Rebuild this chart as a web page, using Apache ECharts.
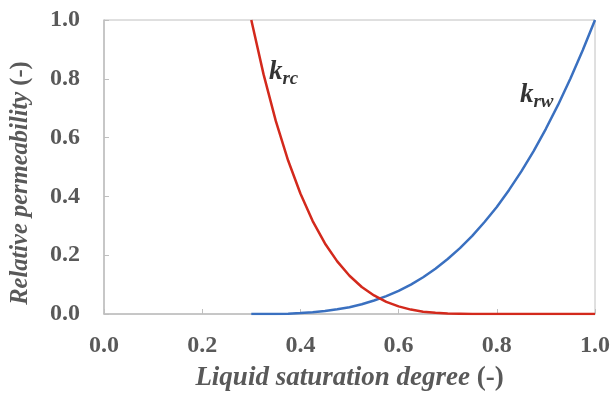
<!DOCTYPE html>
<html>
<head>
<meta charset="utf-8">
<script src="https://cdn.jsdelivr.net/npm/echarts@6/dist/echarts.min.js"></script>
<style>
  html, body { margin: 0; padding: 0; background: #fff; }
  #chart { width: 615px; height: 397px; }
</style>
</head>
<body>
<div id="chart"></div>
<script>
// 液体饱和度（横轴）
const satX = [0.300, 0.325, 0.350, 0.375, 0.400, 0.425, 0.450, 0.475, 0.500, 0.525,
              0.550, 0.575, 0.600, 0.625, 0.650, 0.675, 0.700, 0.725, 0.750, 0.775,
              0.800, 0.825, 0.850, 0.875, 0.900, 0.925, 0.950, 0.975, 1.000];
// k_rc 曲线（红）
const krc = [1.000, 0.815, 0.656, 0.522, 0.410, 0.316, 0.240, 0.179, 0.130, 0.092,
             0.063, 0.041, 0.026, 0.015, 0.008, 0.004, 0.002, 0.001, 0.000, 0.000,
             0.000, 0.000, 0.000, 0.000, 0.000, 0.000, 0.000, 0.000, 0.000];
// k_rw 曲线（蓝）
const krw = [0.000, 0.000, 0.000, 0.001, 0.003, 0.006, 0.010, 0.016, 0.023, 0.033,
             0.046, 0.061, 0.079, 0.100, 0.125, 0.154, 0.187, 0.224, 0.266, 0.313,
             0.364, 0.422, 0.485, 0.554, 0.630, 0.712, 0.801, 0.897, 1.000];
// 曲线标注位置
const curveLabels = [
    { name: 'rc', x: 0.336, y: 0.823 },
    { name: 'rw', x: 0.847, y: 0.745 }
];

const FONT = "'Liberation Serif', 'Times New Roman', serif";
const TICK_COLOR = '#595959';

const chart = echarts.init(document.getElementById('chart'));

const pairs = (ys) => satX.map((x, i) => [x, ys[i]]);

// 轴标题：斜体 + 正体 "(-)"
const nameStyle = (size, padding) => ({
    fontFamily: FONT, fontSize: size, fontWeight: 'bold', color: TICK_COLOR,
    padding: padding,
    rich: {
        i: { fontFamily: FONT, fontSize: size, fontWeight: 'bold', fontStyle: 'italic', color: TICK_COLOR },
        n: { fontFamily: FONT, fontSize: size, fontWeight: 'bold', color: TICK_COLOR }
    }
});
const tickLabel = (margin) => ({
    margin: margin,
    fontFamily: FONT, fontSize: 24, fontWeight: 'bold', color: TICK_COLOR,
    formatter: v => v.toFixed(1)
});

const option = {
    animation: false,
    grid: {
        left: 104, right: 20, top: 20, bottom: 82,
        show: true,
        borderColor: '#c0c0c0',
        borderWidth: 1
    },
    xAxis: {
        type: 'value',
        min: 0, max: 1, interval: 0.2,
        name: '{i|Liquid saturation degree} {n|(-)}',
        nameLocation: 'middle',
        nameGap: 51,
        nameTextStyle: nameStyle(27, 0),
        axisLine: { lineStyle: { color: '#bfbfbf', width: 1.5 } },
        axisTick: { inside: true, length: 5, lineStyle: { color: '#bfbfbf' } },
        splitLine: { show: false },
        axisLabel: tickLabel(20)
    },
    yAxis: {
        type: 'value',
        min: 0, max: 1, interval: 0.2,
        name: '{i|Relative permeability} {n|(-)}',
        nameLocation: 'middle',
        nameGap: 71,
        nameTextStyle: nameStyle(24.5, [0, 32, 0, 0]),
        axisLine: { show: true, lineStyle: { color: '#bfbfbf', width: 1.5 } },
        axisTick: { show: true, inside: true, length: 5, lineStyle: { color: '#bfbfbf' } },
        splitLine: { show: false },
        axisLabel: tickLabel(24)
    },
    series: [
        {
            name: 'krc', type: 'line', data: pairs(krc),
            showSymbol: false, smooth: false,
            lineStyle: { color: '#d3291c', width: 2.5, join: 'round' },
            z: 3
        },
        {
            name: 'krw', type: 'line', data: pairs(krw),
            showSymbol: false, smooth: false,
            lineStyle: { color: '#3a70c0', width: 2.5, join: 'round' },
            z: 2
        },
        {
            type: 'scatter',
            symbolSize: 0,
            silent: true,
            data: curveLabels.map(d => ({ value: [d.x, d.y], name: d.name })),
            label: {
                show: true,
                position: 'inside',
                align: 'left',
                verticalAlign: 'middle',
                formatter: p => '{k|k}{s|' + p.name + '}',
                rich: {
                    k: {
                        fontFamily: FONT, fontSize: 27, fontWeight: 'bold',
                        fontStyle: 'italic', color: '#000'
                    },
                    s: {
                        fontFamily: FONT, fontSize: 19, fontWeight: 'bold',
                        fontStyle: 'italic', color: '#000',
                        padding: [14, 0, 0, 0]
                    }
                }
            }
        }
    ]
};
chart.setOption(option);
</script>
</body>
</html>
